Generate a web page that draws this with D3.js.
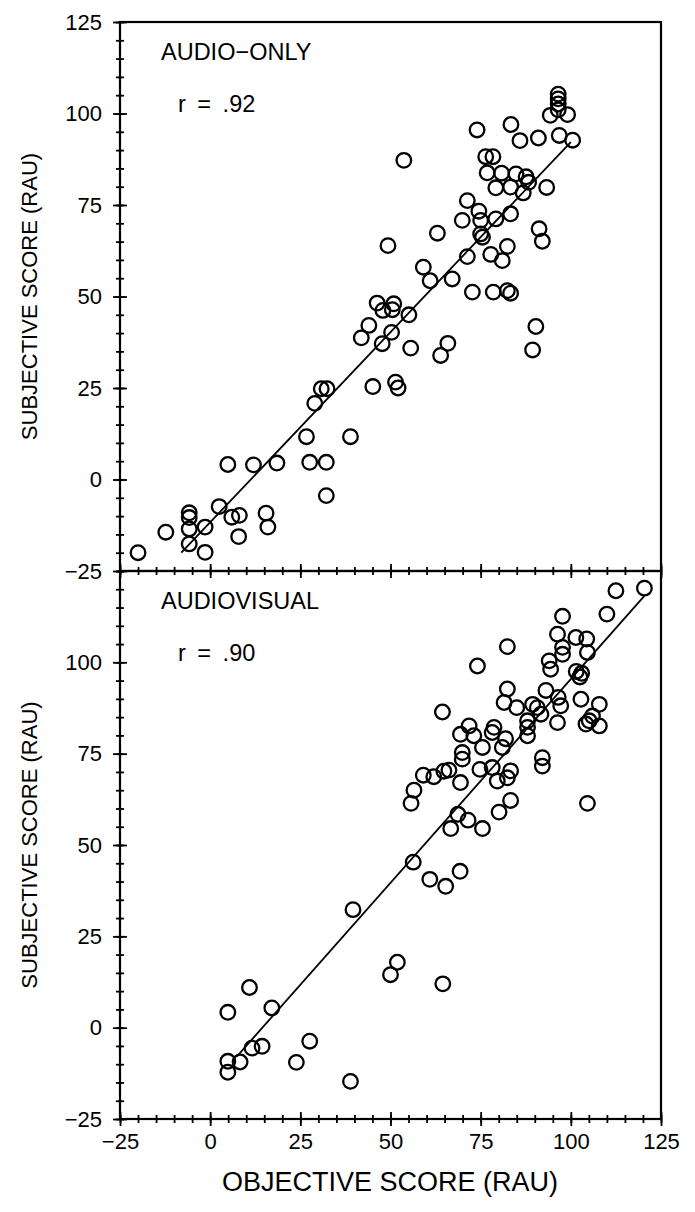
<!DOCTYPE html>
<html lang="en">
<head>
    <meta charset="UTF-8">
    <title>Subjective vs objective score</title>
    <script src="https://d3js.org/d3.v7.js"></script>
    <style>
        body { margin: 0; background: #fff; }
        svg { display: block; }
        text { font-family: "Liberation Sans", Arial, sans-serif; fill: #000; }
        .axis path { display: none; }
        .axis line { stroke: #000; stroke-width: 1.8px; }
        .axis text { font-size: 22px; }
        .frame { fill: none; stroke: #000; stroke-width: 2.2px; }
        .dot { fill: none; stroke: #000; stroke-width: 2.3px; }
        .fit { stroke: #000; stroke-width: 1.8px; fill: none; }
        .label { font-size: 23.5px; }
        .r-label { font-size: 23.5px; word-spacing: 5px; }
        .ytitle { font-size: 22px; }
        .xtitle { font-size: 27px; }
    </style>
</head>
<body>
    <svg></svg>
    <script>
        // audio-only panel (objective, subjective) in RAU
        const audioObj = [-20, -12.3, -5.8, -5.8, -5.8, -5.8, -1.4, -1.4, 2.5, 4.9, 6, 8.1, 7.9, 12, 15.5, 16, 18.5,
            26.7, 27.6, 32.2, 32.2, 29, 30.8, 32.4, 38.9, 45.1, 51.4, 52.1, 41.9, 44, 47.7, 50.3, 46.3, 47.9,
            50.9, 50.5, 55.6, 63.9, 65.9, 89.4, 90.3, 55.1, 72.7, 78.5, 82.4, 83.3, 61, 67.1, 59.1, 71.3, 81,
            77.8, 82.4, 49.3, 63, 75, 75.5, 91.2, 92.1, 69.9, 75, 79.2, 83.3, 74.5, 71.3, 79.2, 83.3, 86.8,
            93.3, 76.8, 80.8, 84.8, 87.6, 88.3, 76.4, 78.4, 53.7, 74, 83.4, 85.9, 91, 96.8, 100.5, 94.3, 99.1,
            96.5, 96.5, 96.5, 96.5];
        const audioSubj = [-20, -14.4, -9.1, -10.4, -13.5, -17.6, -13, -19.9, -7.4, 4.1, -10.3, -9.8, -15.6, 4, -9.2, -13, 4.5,
            11.7, 4.7, 4.7, -4.4, 20.8, 24.8, 24.8, 11.7, 25.4, 26.6, 25, 38.7, 42.1, 37.1, 40.2, 48.2, 46.2,
            48, 46.4, 35.9, 33.9, 37.2, 35.4, 41.8, 45, 51.2, 51.2, 51.6, 50.9, 54.3, 54.8, 58, 60.9, 59.8,
            61.5, 63.7, 63.9, 67.3, 67.1, 66.2, 68.5, 65.1, 70.8, 70.8, 71.2, 72.6, 73.3, 76.2, 79.7, 79.9, 78.3,
            79.8, 83.8, 83.7, 83.5, 82.7, 81.2, 88.2, 88.2, 87.2, 95.5, 97, 92.6, 93.3, 94, 92.7, 99.5, 99.7,
            105.3, 104, 102.6, 101];

        // audiovisual panel
        const avObj = [120.4, 112.5, 110, 97.7, 82.4, 74.1, 96.3, 101.4, 104.4, 97.7, 97.7, 104.6, 94, 94.4, 101.5,
            102.5, 103, 93.1, 82.4, 96.5, 102.8, 107.9, 97.2, 106, 105.1, 107.9, 104.2, 96.3, 90.7, 91.7, 89.4,
            85, 81.5, 64.4, 88, 88, 88, 71.8, 69.4, 78.7, 78.2, 73.1, 75.5, 81.9, 81, 69.9, 69.9, 92.1, 92.1,
            59.1, 62, 64.8, 66.2, 74.8, 78.2, 83.3, 82.4, 69.4, 79.6, 56.5, 55.7, 83.3, 80.1, 68.7, 71.5, 66.7,
            75.5, 104.6, 56.3, 60.9, 65.3, 69.3, 39.6, 51.9, 50, 64.5, 10.9, 4.9, 17.1, 11.6, 14.4, 27.6, 23.9,
            8.3, 4.9, 4.9, 38.9];
        const avSubj = [120.3, 119.6, 113.2, 112.6, 104.3, 99, 107.7, 106.8, 106.4, 104.1, 102.2, 102.7, 100.4, 98.1, 97.5,
            96, 97, 92.3, 92.7, 90.4, 89.9, 88.5, 88.1, 85.3, 84, 82.6, 83.1, 83.5, 87.6, 85.8, 88.5,
            87.6, 89, 86.4, 84, 82.2, 79.9, 82.6, 80.3, 82.2, 80.8, 79.9, 76.7, 79.1, 76.7, 75.3, 73.5, 73.9, 71.6,
            69.1, 68.7, 70.2, 70.5, 70.7, 71.2, 70.3, 68.4, 67.1, 67.5, 65, 61.4, 62.2, 59, 58.4, 56.8, 54.5,
            54.5, 61.4, 45.3, 40.6, 38.7, 42.8, 32.3, 17.9, 14.5, 12, 11, 4.2, 5.4, -5.6, -5.1, -3.7, -9.5,
            -9.4, -9.2, -12.2, -14.7];

        // regression line end points [objective, subjective]
        const audioFit = [[-8, -20], [100, 92.2]];
        const avFit = [[7.4, -7.9], [120.4, 118.2]];

        const panels = [
            { name: "AUDIO\u2212ONLY", r: "r = .92", xs: audioObj, ys: audioSubj, fit: audioFit },
            { name: "AUDIOVISUAL", r: "r = .90", xs: avObj, ys: avSubj, fit: avFit }
        ];

        const majorTicks = [-25, 0, 25, 50, 75, 100, 125];
        const minorTicks = d3.range(-25, 126, 5);

        const width = 695;
        const height = 1212;
        const left = 120, right = 661;
        const panelTop = [22, 571];
        const panelBottom = [571, 1119];

        const svg = d3.select("svg").attr("width", width).attr("height", height);

        const xScale = d3.scaleLinear().domain([-25, 125]).range([left, right]);

        // ticks in this plot cross the axis line
        function crossTicks(g, len) {
            g.selectAll(".tick line").attr("x1", -len).attr("x2", len);
        }
        function crossTicksX(g, len) {
            g.selectAll(".tick line").attr("y1", -len).attr("y2", len);
        }

        panels.forEach((p, i) => {
            const yScale = d3.scaleLinear().domain([-25, 125]).range([panelBottom[i], panelTop[i]]);
            const g = svg.append("g");

            g.append("rect").attr("class", "frame")
                .attr("x", left).attr("y", panelTop[i])
                .attr("width", right - left).attr("height", panelBottom[i] - panelTop[i]);

            // y axis: minor then major
            g.append("g").attr("class", "axis")
                .attr("transform", `translate(${left},0)`)
                .call(d3.axisLeft(yScale).tickValues(minorTicks).tickFormat(""))
                .call(a => crossTicks(a, 4));
            const yLabels = i === 0 ? majorTicks : majorTicks.filter(v => v < 125);
            g.append("g").attr("class", "axis")
                .attr("transform", `translate(${left},0)`)
                .call(d3.axisLeft(yScale).tickValues(yLabels))
                .call(a => crossTicks(a, 7))
                .call(a => a.selectAll("text").attr("x", -18));

            // x axis at panel bottom
            g.append("g").attr("class", "axis")
                .attr("transform", `translate(0,${panelBottom[i]})`)
                .call(d3.axisBottom(xScale).tickValues(minorTicks).tickFormat(""))
                .call(a => crossTicksX(a, 4));
            const xAxis = g.append("g").attr("class", "axis")
                .attr("transform", `translate(0,${panelBottom[i]})`)
                .call(d3.axisBottom(xScale).tickValues(majorTicks).tickPadding(8))
                .call(a => crossTicksX(a, 7));
            if (i === 0) xAxis.selectAll("text").remove();

            // regression line
            g.append("path").attr("class", "fit")
                .attr("d", d3.line().x(d => xScale(d[0])).y(d => yScale(d[1]))(p.fit));

            // points
            g.selectAll(".dot")
                .data(p.xs.map((x, k) => [x, p.ys[k]]))
                .enter().append("circle")
                .attr("class", "dot")
                .attr("cx", d => xScale(d[0]))
                .attr("cy", d => yScale(d[1]))
                .attr("r", 7.3);

            g.append("text").attr("class", "label")
                .attr("x", 161).attr("y", panelTop[i] + 38)
                .text(p.name);
            g.append("text").attr("class", "r-label")
                .attr("x", 178).attr("y", panelTop[i] + 90)
                .text(p.r);

            g.append("text").attr("class", "ytitle")
                .attr("transform", `translate(37,${(panelTop[i] + panelBottom[i]) / 2}) rotate(-90)`)
                .attr("text-anchor", "middle")
                .text("SUBJECTIVE SCORE (RAU)");
        });

        svg.append("text").attr("class", "xtitle")
            .attr("x", 390).attr("y", 1191)
            .attr("text-anchor", "middle")
            .text("OBJECTIVE SCORE (RAU)");
    </script>
</body>
</html>
